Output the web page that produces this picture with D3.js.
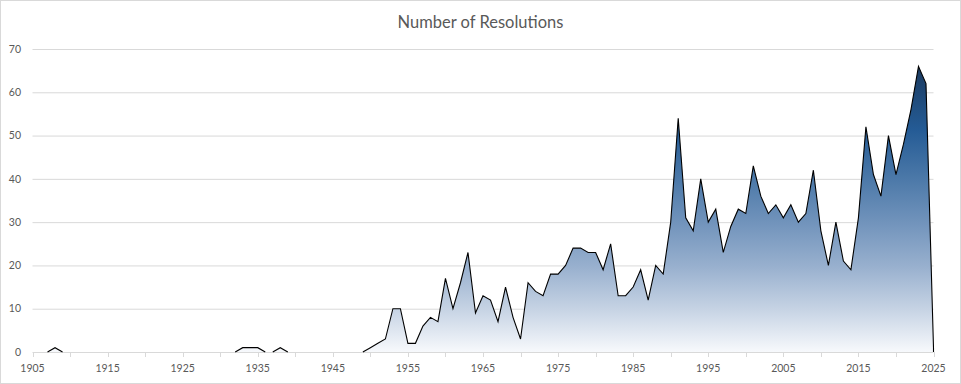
<!DOCTYPE html>
<html lang="en">
<head>
    <meta charset="UTF-8">
    <title>Number of Resolutions</title>
    <script src="https://cdnjs.cloudflare.com/ajax/libs/d3/7.8.5/d3.min.js"></script>
    <style>
        body { margin: 0; background: #ffffff; }
        svg { display: block; font-family: 'Lato', 'Open Sans', sans-serif; }
    </style>
</head>
<body>
    <script>
        //first and last year shown on the x axis
        let firstYear = 1905;
        let lastYear = 2025;

        //resolutions per year, 1905 .. 2025
        let resolutions = [
            0, 0, 0, 1, 0,                                      // 1905-1909
            0, 0, 0, 0, 0, 0, 0, 0, 0, 0,                       // 1910s
            0, 0, 0, 0, 0, 0, 0, 0, 0, 0,                       // 1920s
            0, 0, 0, 1, 1, 1, 0, 0, 1, 0,                       // 1930s
            0, 0, 0, 0, 0, 0, 0, 0, 0, 0,                       // 1940s
            1, 2, 3, 10, 10, 2, 2, 6, 8, 7,                     // 1950s
            17, 10, 16, 23, 9, 13, 12, 7, 15, 8,                // 1960s
            3, 16, 14, 13, 18, 18, 20, 24, 24, 23,              // 1970s
            23, 19, 25, 13, 13, 15, 19, 12, 20, 18,             // 1980s
            30, 54, 31, 28, 40, 30, 33, 23, 29, 33,             // 1990s
            32, 43, 36, 32, 34, 31, 34, 30, 32, 42,             // 2000s
            28, 20, 30, 21, 19, 31, 52, 41, 36, 50,             // 2010s
            41, 48, 56, 66, 62, 1                               // 2020-2025
        ];

        //axis ticks
        let yTicks = [0, 10, 20, 30, 40, 50, 60, 70];
        let xLabelYears = [1905, 1915, 1925, 1935, 1945, 1955, 1965, 1975, 1985, 1995, 2005, 2015, 2025];
        let xTickYears = d3.range(firstYear, lastYear + 1, 5);

        let title = 'Number of Resolutions';

        let width = 961;
        let height = 384;

        let years = d3.range(firstYear, lastYear + 1);
        let data = years.map((y, i) => ({ year: y, value: resolutions[i] }));

        let svg = d3.select('body')
            .append('svg')
            .attr('width', width)
            .attr('height', height);

        //chart border
        svg.append('rect')
            .attr('x', 0.5).attr('y', 0.5)
            .attr('width', width - 1).attr('height', height - 1)
            .attr('fill', '#ffffff')
            .attr('stroke', '#d9d9d9');

        let x = d3.scaleLinear().domain([firstYear, lastYear]).range([32.5, 933.5]);
        let y = d3.scaleLinear().domain([0, 70]).range([352, 49]);

        //gradient, dark at the peak fading to white at zero
        let maxVal = d3.max(resolutions);
        let grad = svg.append('defs').append('linearGradient')
            .attr('id', 'fillGrad')
            .attr('gradientUnits', 'userSpaceOnUse')
            .attr('x1', 0).attr('x2', 0)
            .attr('y1', y(maxVal)).attr('y2', y(0));
        [
            [0, '#1b3a5f'],
            [0.22, '#245b95'],
            [0.39, '#4b78a8'],
            [0.55, '#7294bc'],
            [0.7, '#98b0ce'],
            [0.85, '#c6d3e4'],
            [1, '#f7f9fc']
        ].forEach(s => grad.append('stop').attr('offset', s[0]).attr('stop-color', s[1]));

        //gridlines
        svg.append('g')
            .selectAll('line')
            .data(yTicks.filter(t => t > 0))
            .join('line')
            .attr('x1', x(firstYear)).attr('x2', x(lastYear))
            .attr('y1', d => y(d) + 0.5).attr('y2', d => y(d) + 0.5)
            .attr('stroke', '#d9d9d9')
            .attr('stroke-width', 1);

        //y labels
        svg.append('g')
            .selectAll('text')
            .data(yTicks)
            .join('text')
            .attr('x', 21)
            .attr('y', d => y(d))
            .attr('dy', '0.35em')
            .attr('text-anchor', 'end')
            .attr('fill', '#595959')
            .attr('font-size', 10.5)
            .text(d => d);

        //area
        let area = d3.area()
            .x(d => x(d.year))
            .y0(y(0))
            .y1(d => y(d.value));

        svg.append('path')
            .datum(data)
            .attr('d', area)
            .attr('fill', 'url(#fillGrad)');

        //x axis line and ticks
        svg.append('line')
            .attr('x1', x(firstYear)).attr('x2', x(lastYear))
            .attr('y1', y(0) + 0.5).attr('y2', y(0) + 0.5)
            .attr('stroke', '#d9d9d9');

        svg.append('g')
            .selectAll('line')
            .data(xTickYears)
            .join('line')
            .attr('x1', d => Math.round(x(d)) + 0.5).attr('x2', d => Math.round(x(d)) + 0.5)
            .attr('y1', y(0)).attr('y2', y(0) + 5)
            .attr('stroke', '#d9d9d9');

        svg.append('g')
            .selectAll('text')
            .data(xLabelYears)
            .join('text')
            .attr('x', d => x(d))
            .attr('y', 368)
            .attr('dy', '0.35em')
            .attr('text-anchor', 'middle')
            .attr('fill', '#595959')
            .attr('font-size', 10.5)
            .text(d => d);

        //outline: only where the series leaves the baseline
        let runs = [];
        let run = null;
        for (let i = 0; i < data.length - 1; i++) {
            if (data[i].value > 0 || data[i + 1].value > 0) {
                if (!run) { run = [data[i]]; runs.push(run); }
                run.push(data[i + 1]);
            } else {
                run = null;
            }
        }
        //closing edge down to the axis at the last year
        let last = data[data.length - 1];
        if (run && last.value > 0) run.push({ year: last.year, value: 0 });

        let line = d3.line()
            .x(d => x(d.year))
            .y(d => y(d.value));

        svg.append('g')
            .selectAll('path')
            .data(runs)
            .join('path')
            .attr('d', line)
            .attr('fill', 'none')
            .attr('stroke', '#000000')
            .attr('stroke-width', 1.1)
            .attr('stroke-linejoin', 'miter');

        //title
        svg.append('text')
            .attr('x', width / 2)
            .attr('y', 22)
            .attr('dy', '0.35em')
            .attr('text-anchor', 'middle')
            .attr('fill', '#595959')
            .attr('font-size', 16.5)
            .text(title);
    </script>
</body>
</html>
